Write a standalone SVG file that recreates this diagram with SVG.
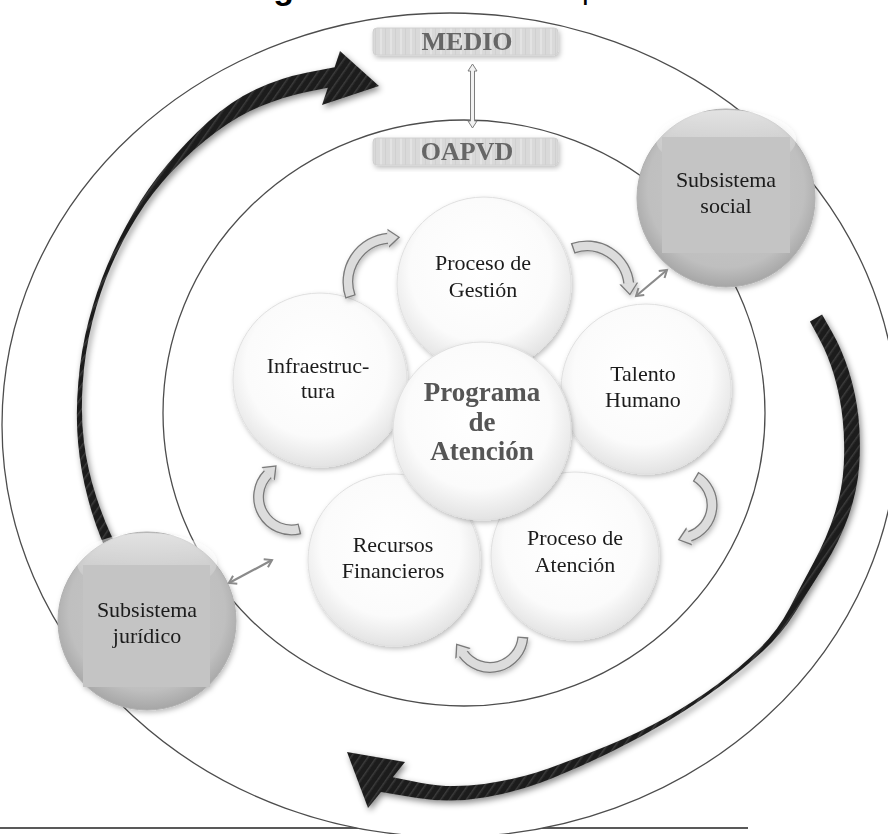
<svg xmlns="http://www.w3.org/2000/svg" width="888" height="834" viewBox="0 0 888 834">
<defs>
<style>
.ring{fill:none;stroke:#4d4d4d;stroke-width:1.3}
.lbl{font-family:"Liberation Serif","Times New Roman",serif;font-size:22px;fill:#1a1a1a;text-anchor:middle}
.big{font-family:"Liberation Serif","Times New Roman",serif;font-size:27px;font-weight:bold;fill:#555;text-anchor:middle}
.box{fill:url(#stripe);stroke:#d0d0d0;stroke-width:1}
.boxt{font-family:"Liberation Serif","Times New Roman",serif;font-size:26px;font-weight:bold;fill:#666;text-anchor:middle}
.wc{fill:url(#gW);stroke:#e0e0e0;stroke-width:1}
.gc{fill:url(#gG);stroke:#b0b0b0;stroke-width:1}
.sq{fill:#c4c4c4}
.ca-o{fill:none;stroke:#7a7a7a;stroke-width:11}
.ca-i{fill:none;stroke:#dcdcdc;stroke-width:8.4;stroke-dasharray:0 1.4 2000}
.da{fill:none;stroke:#8a8a8a;stroke-width:2.2}
.blk{fill:url(#hatch)}
.cap{font-family:"Liberation Sans",Arial,sans-serif;fill:#000}
</style>
<pattern id="hatch" patternUnits="userSpaceOnUse" width="7" height="7" patternTransform="rotate(35)">
<rect width="7" height="7" fill="#1f1f1f"/><rect width="1.4" height="7" fill="#3b3b3b"/>
</pattern>
<pattern id="stripe" patternUnits="userSpaceOnUse" width="10" height="40">
<rect width="10" height="40" fill="#d9d9d9"/><rect width="2" height="40" fill="#e3e3e3"/><rect x="5" width="1" height="40" fill="#d0d0d0"/>
</pattern>
<radialGradient id="gW" cx="0.48" cy="0.42" r="0.58">
<stop offset="0" stop-color="#ffffff"/><stop offset="0.7" stop-color="#fbfbfb"/><stop offset="1" stop-color="#e3e3e3"/>
</radialGradient>
<radialGradient id="gG" cx="0.5" cy="0.45" r="0.55">
<stop offset="0" stop-color="#c8c8c8"/><stop offset="0.8" stop-color="#bfbfbf"/><stop offset="1" stop-color="#a6a6a6"/>
</radialGradient>
<linearGradient id="hl" x1="0" y1="0" x2="0" y2="1">
<stop offset="0" stop-color="#fff" stop-opacity="0.55"/><stop offset="1" stop-color="#fff" stop-opacity="0"/>
</linearGradient>
<filter id="sh" x="-20%" y="-20%" width="140%" height="140%">
<feDropShadow dx="1.5" dy="2.5" stdDeviation="2.5" flood-color="#000" flood-opacity="0.25"/>
</filter>
<filter id="shB" x="-20%" y="-20%" width="140%" height="140%">
<feDropShadow dx="2" dy="3" stdDeviation="3" flood-color="#000" flood-opacity="0.45"/>
</filter>
<marker id="hdD" markerUnits="userSpaceOnUse" markerWidth="14" markerHeight="20" refX="0" refY="0" orient="auto" overflow="visible">
<path d="M0,-9.5 L12,0 L0,9.5 Z" fill="#7a7a7a"/>
</marker>
<marker id="hdL" markerUnits="userSpaceOnUse" markerWidth="14" markerHeight="20" refX="0" refY="0" orient="auto" overflow="visible">
<path d="M-0.6,-8.2 L9.9,0 L-0.6,8.2 Z" fill="#dcdcdc"/>
</marker>
<marker id="chev" markerUnits="userSpaceOnUse" markerWidth="12" markerHeight="12" refX="8" refY="5" orient="auto-start-reverse" overflow="visible">
<path d="M1,0.5 L8,5 L1,9.5" fill="none" stroke="#8a8a8a" stroke-width="2"/>
</marker>
</defs>

<rect width="888" height="834" fill="#fff"/>

<g id="caption">
<text class="cap" x="243" y="-1" font-size="34" font-weight="bold">Figura</text>
<text class="cap" x="582" y="-1" font-size="30">p</text>
</g>

<line x1="0" y1="828" x2="748" y2="828" stroke="#222" stroke-width="1.5"/>

<g id="rings">
<ellipse class="ring" cx="450" cy="425" rx="448" ry="412" style="fill:#fff"/>
<ellipse class="ring" cx="464" cy="413" rx="301" ry="293"/>
</g>

<g id="cycle-arrows" filter="url(#shB)">
<path class="blk" d="M116.6,572.6 L106.0,549.7 Q95.3,526.8 88.0,498.8 Q80.6,470.7 78.1,442.9 Q75.5,415 78.3,382.4 Q81.0,349.7 88.7,320.6 Q96.3,291.4 107.3,265.3 Q118.2,239.1 132.9,213.7 Q147.6,188.2 167.1,164.8 Q186.5,141.4 208.7,121.3 Q230.8,101.2 255.5,89.6 Q280.2,77.9 307.4,72.6 L334.6,67.2 L340,51 L379,86 L322,105 L327.8,87.7 L306.8,91.9 Q285.8,96.1 262.5,105.5 Q239.2,114.8 216.4,131.7 Q193.5,148.6 173.0,170.2 Q152.4,191.8 137.1,216.4 Q121.8,240.9 110.8,266.8 Q99.7,292.6 92.4,321.5 Q85.0,350.3 82.8,382.7 Q80.5,415 84.0,442.2 Q87.4,469.3 96.1,496.3 Q104.7,523.2 116.1,545.3 L127.4,567.4 Z"/>
<path class="blk" d="M822.1,314.6 L832.0,331.9 Q841.9,349.1 848.9,371.3 Q855.8,393.4 858.4,416.6 Q861,439.8 859.2,465.5 Q857.4,491.1 848.3,516.7 Q839.1,542.3 824.0,566.3 Q808.9,590.2 795.4,612.0 Q781.9,633.7 762.5,651.5 Q743.0,669.2 719.4,686.8 Q695.8,704.3 668.5,720.8 Q641.1,737.2 611.4,751.7 Q581.7,766.2 551.6,778.5 Q521.5,790.8 485.8,797.2 Q450.1,803.5 415.6,797.7 L381.0,791.9 L368,808 L347,752 L405,762 L392.8,777.2 L421.4,782.9 Q449.9,788.5 484.2,783.9 Q518.5,779.2 548.4,768.5 Q578.3,757.8 608.6,745.3 Q638.9,732.8 666.6,717.3 Q694.2,701.7 717.6,684.3 Q741.0,666.8 759.6,648.6 Q778.1,630.3 789.6,608.1 Q801.1,585.8 814.0,561.8 Q826.9,537.7 834.8,513.3 Q842.6,488.9 843.8,464.6 Q845,440.2 842.6,418.4 Q840.2,396.6 834.2,375.8 Q828.1,354.9 819.0,338.2 L809.9,321.4 Z"/>
</g>

<g id="medio" filter="url(#sh)">
<rect class="box" x="373" y="28" width="185" height="27" rx="4"/>
<text class="boxt" x="467" y="50">MEDIO</text>
</g>
<g id="oapvd" filter="url(#sh)">
<rect class="box" x="373" y="138" width="185" height="27" rx="4"/>
<text class="boxt" x="467" y="160">OAPVD</text>
</g>

<g id="infraestructura" filter="url(#sh)">
<circle class="wc" cx="320" cy="380" r="87"/>
<text class="lbl" x="318" y="373">Infraestruc-</text>
<text class="lbl" x="318" y="398">tura</text>
</g>
<g id="proceso-gestion" filter="url(#sh)">
<circle class="wc" cx="484" cy="284" r="87"/>
<text class="lbl" x="483" y="270">Proceso de</text>
<text class="lbl" x="483" y="297">Gestión</text>
</g>
<g id="talento-humano" filter="url(#sh)">
<circle class="wc" cx="646" cy="389" r="85"/>
<text class="lbl" x="643" y="381">Talento</text>
<text class="lbl" x="643" y="407">Humano</text>
</g>
<g id="proceso-atencion" filter="url(#sh)">
<circle class="wc" cx="575" cy="556" r="84"/>
<text class="lbl" x="575" y="545">Proceso de</text>
<text class="lbl" x="575" y="572">Atención</text>
</g>
<g id="recursos-financieros" filter="url(#sh)">
<circle class="wc" cx="394" cy="560" r="86"/>
<text class="lbl" x="393" y="552">Recursos</text>
<text class="lbl" x="393" y="578">Financieros</text>
</g>
<g id="programa-atencion" filter="url(#sh)">
<circle class="wc" cx="482" cy="431" r="89"/>
<text class="big" x="482" y="401">Programa</text>
<text class="big" x="482" y="431">de</text>
<text class="big" x="482" y="460">Atención</text>
</g>

<g id="subsistema-social" filter="url(#sh)">
<circle class="gc" cx="726" cy="198" r="89"/>
<ellipse cx="726" cy="140" rx="70" ry="30" fill="url(#hl)"/>
<rect class="sq" x="662" y="137" width="128" height="116"/>
<text class="lbl" x="726" y="187">Subsistema</text>
<text class="lbl" x="726" y="213">social</text>
</g>
<g id="subsistema-juridico" filter="url(#sh)">
<circle class="gc" cx="147" cy="621" r="89"/>
<ellipse cx="147" cy="563" rx="70" ry="30" fill="url(#hl)"/>
<rect class="sq" x="83" y="565" width="127" height="122"/>
<text class="lbl" x="147" y="617">Subsistema</text>
<text class="lbl" x="147" y="643">jurídico</text>
</g>

<g id="connectors">
<path d="M472.5,64 L477,71 L474.5,71 L474.5,121 L477,121 L472.5,128 L468,121 L470.5,121 L470.5,71 L468,71 Z" fill="#f2f2f2" stroke="#7d7d7d" stroke-width="1"/>
<g filter="url(#sh)">
<path class="ca-o" d="M350.6,297.0 A44,44 0 0 1 388.2,238.2" marker-end="url(#hdD)"/>
<path class="ca-i" d="M350.6,297.0 A44,44 0 0 1 388.2,238.2" marker-end="url(#hdL)"/>
<path class="ca-o" d="M572.6,248.5 A42,42 0 0 1 628.8,283.6" marker-end="url(#hdD)"/>
<path class="ca-i" d="M572.6,248.5 A42,42 0 0 1 628.8,283.6" marker-end="url(#hdL)"/>
<path class="ca-o" d="M695.5,476.4 A33,33 0 0 1 689.2,536.4" marker-end="url(#hdD)"/>
<path class="ca-i" d="M695.5,476.4 A33,33 0 0 1 689.2,536.4" marker-end="url(#hdL)"/>
<path class="ca-o" d="M522.9,636.8 A33,33 0 0 1 463.0,653.4" marker-end="url(#hdD)"/>
<path class="ca-i" d="M522.9,636.8 A33,33 0 0 1 463.0,653.4" marker-end="url(#hdL)"/>
<path class="ca-o" d="M300.0,528.9 A33,33 0 0 1 268.2,473.7" marker-end="url(#hdD)"/>
<path class="ca-i" d="M300.0,528.9 A33,33 0 0 1 268.2,473.7" marker-end="url(#hdL)"/>
</g>
<line class="da" x1="636" y1="296" x2="667" y2="270" marker-start="url(#chev)" marker-end="url(#chev)"/>
<line class="da" x1="229" y1="583" x2="272" y2="560" marker-start="url(#chev)" marker-end="url(#chev)"/>
</g>
</svg>
